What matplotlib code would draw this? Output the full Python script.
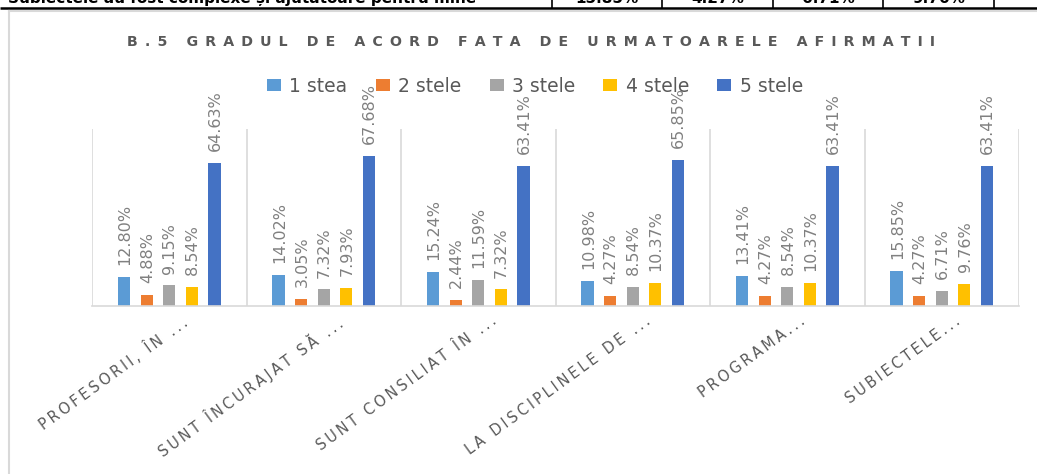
import numpy as np
import matplotlib
matplotlib.use('Agg')
import matplotlib.pyplot as plt
import matplotlib.transforms as mtransforms

# date: gradul de acord (procente pe nr. de stele)
categories = ['PROFESORII, ÎN ...', 'SUNT ÎNCURAJAT SĂ ...', 'SUNT CONSILIAT ÎN ...',
              'LA DISCIPLINELE DE ...', 'PROGRAMA...', 'SUBIECTELE...']
series = ['1 stea', '2 stele', '3 stele', '4 stele', '5 stele']
stea1 = [12.80, 14.02, 15.24, 10.98, 13.41, 15.85]
stele2 = [4.88, 3.05, 2.44, 4.27, 4.27, 4.27]
stele3 = [9.15, 7.32, 11.59, 8.54, 8.54, 6.71]
stele4 = [8.54, 7.93, 7.32, 10.37, 10.37, 9.76]
stele5 = [64.63, 67.68, 63.41, 65.85, 63.41, 63.41]
title = 'B.5 GRADUL DE ACORD FATA DE URMATOARELE AFIRMATII'

# randul din tabel de deasupra graficului
row_text = 'Subiectele au fost complexe și ajutătoare pentru mine'
row_cols = [552, 662, 773, 883, 994]

colors = ['#5B9BD5', '#ED7D31', '#A5A5A5', '#FFC000', '#4472C4']
gray = '#595959'
lgray = '#D9D9D9'
W, H = 1037, 474


def spaced(s, gap='\u200a'):
    return gap.join(s)


fig = plt.figure(figsize=(W / 100, H / 100), dpi=100)

# fundal in pixeli: tabel + chenar
bg = fig.add_axes([0, 0, 1, 1], zorder=0)
bg.set_xlim(0, W)
bg.set_ylim(H, 0)
bg.axis('off')
bg.plot([0, W], [8, 8], color='black', lw=1.8, solid_capstyle='butt')
for xc in row_cols:
    bg.plot([xc, xc], [0, 8], color='black', lw=1.2)
bg.text(8, 3, row_text, ha='left', va='baseline', fontsize=11, fontweight='bold', color='black')
last = [stea1[-1], stele2[-1], stele3[-1], stele4[-1]]
for i, v in enumerate(last):
    xm = (row_cols[i] + row_cols[i + 1]) / 2
    bg.text(xm, 3, '%.2f%%' % v, ha='center', va='baseline', fontsize=11,
            fontweight='bold', color='black')
bg.plot([9, 9], [11, H], color=lgray, lw=1.5)
bg.plot([9, W], [11, 11], color=lgray, lw=1.5)

# graficul
ax = fig.add_axes([92 / W, 1 - 305.5 / H, (1019 - 92) / W, (305.5 - 129) / H], zorder=1)
ax.patch.set_alpha(0)
x = np.arange(len(categories))
step = 0.146
width = 0.08
handles = []
for k, vals in enumerate([stea1, stele2, stele3, stele4, stele5]):
    xs = x + (k - 2) * step
    b = ax.bar(xs, vals, width, color=colors[k], zorder=2)
    handles.append(b)
    for xi, v in zip(xs, vals):
        ax.annotate('%.2f%%' % v, (xi, v), xytext=(0.5, 8.5), textcoords='offset points',
                    rotation=90, ha='center', va='bottom', fontsize=11.5, color='#808080')

ax.set_xlim(-0.5, len(categories) - 0.5)
ax.set_ylim(0, 80)
ax.set_yticks([])
ax.set_xticks(np.arange(-0.5, len(categories), 1), minor=True)
ax.grid(which='minor', axis='x', color=lgray, lw=1.2)
ax.tick_params(which='both', length=0)
for s in ['top', 'right', 'left']:
    ax.spines[s].set_visible(False)
ax.spines['bottom'].set_color(lgray)
ax.spines['bottom'].set_linewidth(1.2)

ax.set_xticks(x)
ax.set_xticklabels([spaced(c, '\u2009') for c in categories], rotation=36, ha='right',
                   rotation_mode='anchor', fontsize=10.5, color=gray)
shift = mtransforms.ScaledTranslation(0.12, -0.03, fig.dpi_scale_trans)
for lab in ax.get_xticklabels():
    lab.set_transform(lab.get_transform() + shift)

fig.text(531 / W, 1 - 42 / H, spaced(title, '\u2002'), ha='center', va='center',
         fontsize=10.2, fontweight='bold', color=gray)

fig.legend(handles, series, loc='center', bbox_to_anchor=(535 / W, 1 - 86 / H), ncol=5,
           frameon=False, fontsize=13.5, handlelength=0.75, handleheight=0.65,
           handletextpad=0.45, columnspacing=1.5, labelcolor=gray)

fig.savefig('out.png', dpi=100)
